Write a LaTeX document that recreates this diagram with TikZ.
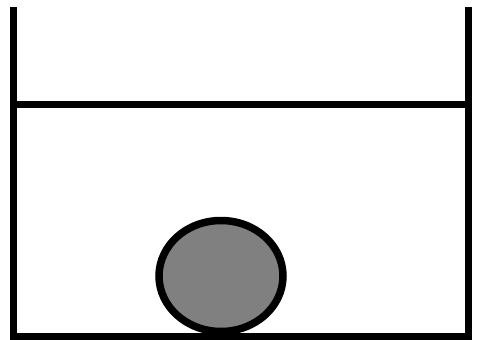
\documentclass[tikz,border=0pt]{standalone}
\usetikzlibrary{shapes.geometric}
\definecolor{ballgray}{RGB}{128,128,128}
\tikzset{
  wall/.style={line width=7pt, line cap=butt},
  ball/.style={ellipse, draw, line width=7.5pt, fill=ballgray, minimum width=124pt, minimum height=111pt, inner sep=0pt}
}
\begin{document}
\begin{tikzpicture}[x=1pt,y=-1pt]
\useasboundingbox (0,0) rectangle (477,340);
\coordinate (lt) at (13,7);
\coordinate (lb) at (13,342);
\coordinate (rt) at (468,7);
\coordinate (rb) at (468,342);
\coordinate (lw) at (13,104);
\coordinate (rw) at (468,104);
\coordinate (lf) at (13,336);
\coordinate (rf) at (468,336);
\draw[wall] (lt) -- (lb);
\draw[wall] (rt) -- (rb);
\draw[wall] (lw) -- (rw);
\node[ball] (b) at (221,276) {};
\draw[wall] (lf) -- (rf);
\end{tikzpicture}
\end{document}
